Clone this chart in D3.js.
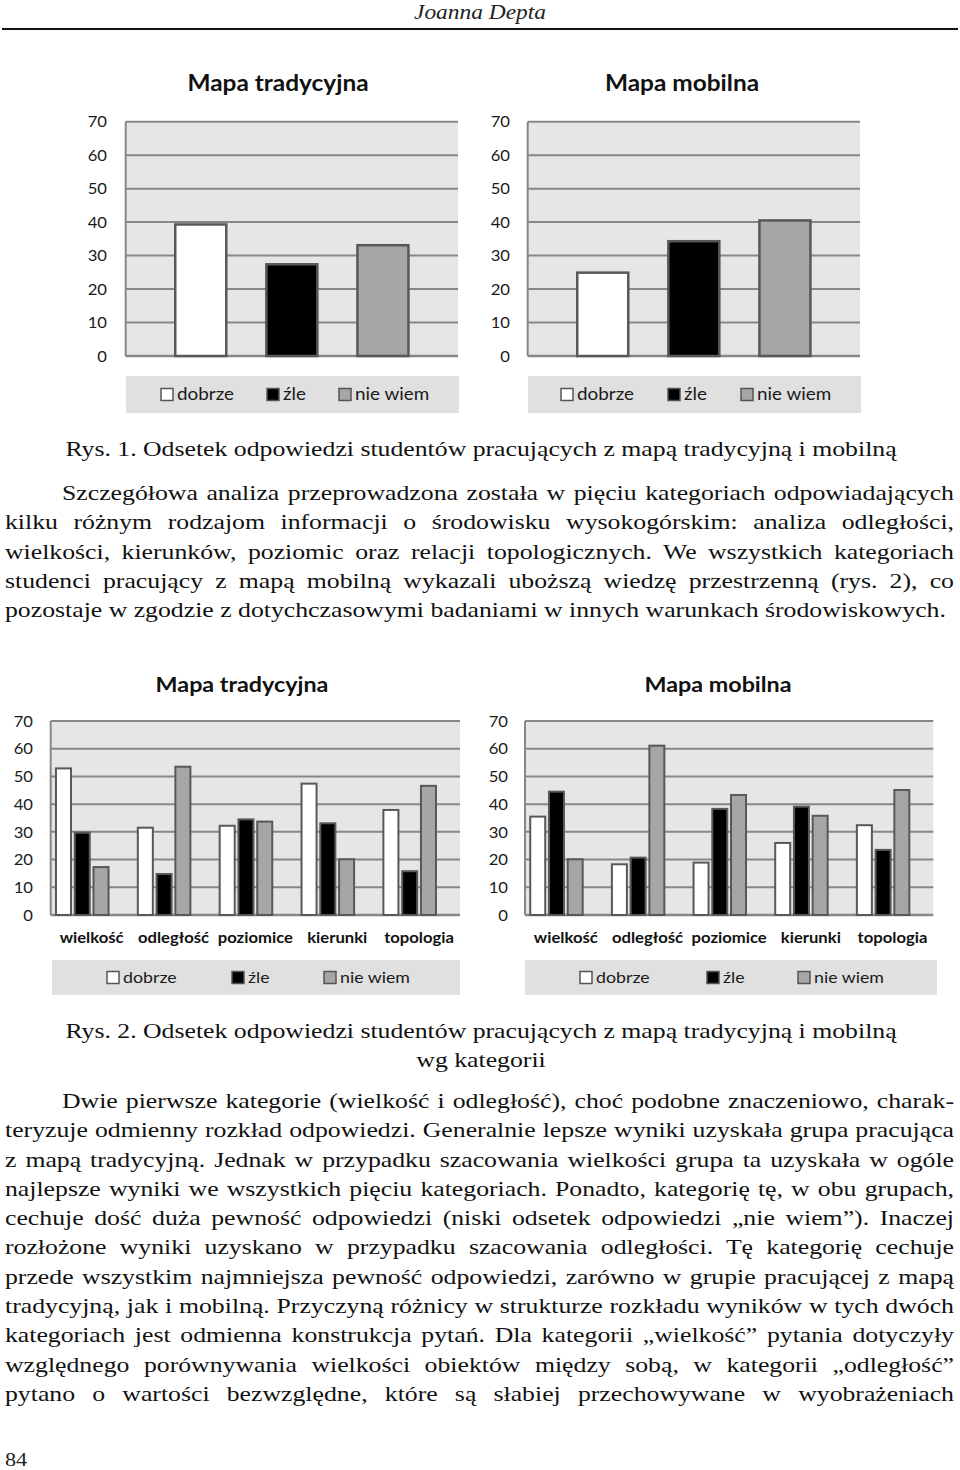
<!DOCTYPE html>
<html><head><meta charset="utf-8">
<script src="https://cdn.jsdelivr.net/npm/d3@7"></script>
<style>
html,body{margin:0;padding:0;background:#fff;}
svg{display:block;}
</style>
</head><body>
<svg id="page" width="960" height="1470"></svg>
<script>
// ---------- DATA ----------
const seriesNames = ["dobrze", "źle", "nie wiem"];
const overallTrad = [39.3, 27.4, 33.1];
const overallMob = [24.9, 34.3, 40.5];
const categories = ["wielkość", "odległość", "poziomice", "kierunki", "topologia"];
const tradDobrze = [52.9, 31.5, 32.2, 47.4, 37.9];
const tradZle = [29.7, 14.8, 34.5, 33.1, 15.8];
const tradNieWiem = [17.3, 53.5, 33.7, 20.1, 46.6];
const mobDobrze = [35.5, 18.3, 18.9, 26.0, 32.4];
const mobZle = [44.5, 20.7, 38.3, 39.1, 23.5];
const mobNieWiem = [20.1, 61.1, 43.3, 35.8, 45.1];
const yTicks = [0, 10, 20, 30, 40, 50, 60, 70];
const chartTitles = ["Mapa tradycyjna", "Mapa mobilna"];

// ---------- TEXT ----------
const headerText = "Joanna Depta";
const caption1 = "Rys. 1. Odsetek odpowiedzi studentów pracujących z mapą tradycyjną i mobilną";
const para1 = [
  "Szczegółowa analiza przeprowadzona została w pięciu kategoriach odpowiadających",
  "kilku różnym rodzajom informacji o środowisku wysokogórskim: analiza odległości,",
  "wielkości, kierunków, poziomic oraz relacji topologicznych. We wszystkich kategoriach",
  "studenci pracujący z mapą mobilną wykazali uboższą wiedzę przestrzenną (rys. 2), co",
  "pozostaje w zgodzie z dotychczasowymi badaniami w innych warunkach środowiskowych."
];
const caption2a = "Rys. 2. Odsetek odpowiedzi studentów pracujących z mapą tradycyjną i mobilną";
const caption2b = "wg kategorii";
const para2 = [
  "Dwie pierwsze kategorie (wielkość i odległość), choć podobne znaczeniowo, charak-",
  "teryzuje odmienny rozkład odpowiedzi. Generalnie lepsze wyniki uzyskała grupa pracująca",
  "z mapą tradycyjną. Jednak w przypadku szacowania wielkości grupa ta uzyskała w ogóle",
  "najlepsze wyniki we wszystkich pięciu kategoriach. Ponadto, kategorię tę, w obu grupach,",
  "cechuje dość duża pewność odpowiedzi (niski odsetek odpowiedzi „nie wiem”). Inaczej",
  "rozłożone wyniki uzyskano w przypadku szacowania odległości. Tę kategorię cechuje",
  "przede wszystkim najmniejsza pewność odpowiedzi, zarówno w grupie pracującej z mapą",
  "tradycyjną, jak i mobilną. Przyczyną różnicy w strukturze rozkładu wyników w tych dwóch",
  "kategoriach jest odmienna konstrukcja pytań. Dla kategorii „wielkość” pytania dotyczyły",
  "względnego porównywania wielkości obiektów między sobą, w kategorii „odległość”",
  "pytano o wartości bezwzględne, które są słabiej przechowywane w wyobrażeniach"
];
const pageNumber = "84";

// ---------- STYLE ----------
const fills = {"dobrze": "#ffffff", "źle": "#000000", "nie wiem": "#a6a6a6"};
const SANS = "Lato, 'Open Sans', sans-serif";
const SERIF = "'Liberation Serif', 'Times New Roman', serif";
const gridColor = "#878787";
const barStroke = "#585858";
const plotBg = "#e6e6e6";
const legendBg = "#e0e0e0";
const CSX = 1.11; // horizontal stretch of chart text (scan aspect)

const svg = d3.select("#page");
svg.append("rect").attr("width", 960).attr("height", 1470).attr("fill", "#fff");

// ---------- CHART HELPERS ----------
function stretchedText(g, x, y, s) {
  return g.append("text").attr("transform", `translate(${x},${y}) scale(${CSX},1)`).text(s);
}

function drawFrame(g, cfg, y) {
  g.append("rect").attr("x", cfg.left).attr("y", cfg.top)
    .attr("width", cfg.right - cfg.left).attr("height", cfg.bottom - cfg.top)
    .attr("fill", plotBg);
  g.selectAll("line.grid").data(yTicks).join("line").attr("class", "grid")
    .attr("x1", cfg.left).attr("x2", cfg.right)
    .attr("y1", d => y(d)).attr("y2", d => y(d))
    .attr("stroke", gridColor).attr("stroke-width", d => d === 0 ? 2.5 : 2);
  g.append("line").attr("x1", cfg.left).attr("x2", cfg.left)
    .attr("y1", cfg.top).attr("y2", cfg.bottom)
    .attr("stroke", gridColor).attr("stroke-width", 2);
  const ax = g.append("g").attr("transform", `translate(${cfg.tickX},0)`)
    .call(d3.axisLeft(y).tickValues(yTicks).tickSize(0).tickPadding(0).tickFormat(d3.format("d")));
  ax.select(".domain").remove();
  ax.selectAll("text").attr("font-family", SANS).attr("font-size", cfg.tickSize)
    .attr("fill", "#1a1a1a").attr("dy", "0.35em").attr("transform", `scale(${CSX},1)`);
  stretchedText(g, cfg.titleX, cfg.titleY, cfg.title).attr("text-anchor", "middle")
    .attr("font-family", SANS).attr("font-weight", "bold").attr("font-size", cfg.titleSize)
    .attr("fill", "#111");
}

function drawLegend(g, cfg) {
  const L = cfg.legend;
  g.append("rect").attr("x", L.x0).attr("y", L.y0).attr("width", L.x1 - L.x0)
    .attr("height", L.y1 - L.y0).attr("fill", legendBg);
  const cy = (L.y0 + L.y1) / 2;
  seriesNames.forEach((s, i) => {
    const x = L.x0 + L.offsets[i];
    g.append("rect").attr("x", x).attr("y", cy - 6).attr("width", 12).attr("height", 12)
      .attr("fill", fills[s]).attr("stroke", "#555").attr("stroke-width", 1.5);
    stretchedText(g, x + 16, cy, s).attr("dy", "0.35em")
      .attr("font-family", SANS).attr("font-size", L.fontSize).attr("fill", "#1a1a1a");
  });
}

function drawOverall(cfg, values) {
  const g = svg.append("g");
  const y = d3.scaleLinear().domain([0, 70]).range([cfg.bottom, cfg.top]);
  const x = d3.scaleBand().domain(seriesNames).range([cfg.left, cfg.right])
    .paddingInner(0.44).paddingOuter(0.544);
  drawFrame(g, cfg, y);
  g.selectAll("rect.bar").data(seriesNames.map((s, i) => ({s, v: values[i]}))).join("rect")
    .attr("class", "bar")
    .attr("x", d => x(d.s)).attr("width", x.bandwidth())
    .attr("y", d => y(d.v)).attr("height", d => y(0) - y(d.v))
    .attr("fill", d => fills[d.s]).attr("stroke", barStroke).attr("stroke-width", 2.5);
  drawLegend(g, cfg);
}

function drawCategory(cfg, seriesArrays) {
  const g = svg.append("g");
  const y = d3.scaleLinear().domain([0, 70]).range([cfg.bottom, cfg.top]);
  const x0 = d3.scaleBand().domain(categories).range([cfg.left, cfg.right]).padding(0);
  const slots = seriesNames.concat(["_"]);
  const x1 = d3.scaleBand().domain(slots).range([0, x0.bandwidth()])
    .paddingInner(0.2).paddingOuter(0.28);
  drawFrame(g, cfg, y);
  const data = [];
  categories.forEach((c, ci) => seriesNames.forEach((s, si) => data.push({c, s, v: seriesArrays[si][ci]})));
  g.selectAll("rect.bar").data(data).join("rect").attr("class", "bar")
    .attr("x", d => x0(d.c) + x1(d.s)).attr("width", x1.bandwidth())
    .attr("y", d => y(d.v)).attr("height", d => y(0) - y(d.v))
    .attr("fill", d => fills[d.s]).attr("stroke", barStroke).attr("stroke-width", 2);
  const xa = g.append("g").attr("transform", `translate(0,${cfg.catY})`)
    .call(d3.axisBottom(x0).tickSize(0).tickPadding(0));
  xa.select(".domain").remove();
  xa.selectAll("text").attr("font-family", SANS).attr("font-weight", "bold")
    .attr("font-size", 15).attr("fill", "#111").attr("dy", "0.35em")
    .attr("transform", `scale(${CSX},1)`);
  drawLegend(g, cfg);
}

// ---------- CHARTS ----------
drawOverall({left: 125.7, right: 458, top: 121.7, bottom: 356, tickX: 107, tickSize: 15,
  title: chartTitles[0], titleX: 278, titleY: 91, titleSize: 22,
  legend: {x0: 126, x1: 459, y0: 376, y1: 413, offsets: [35, 141, 213], fontSize: 17}}, overallTrad);
drawOverall({left: 527.7, right: 860, top: 121.7, bottom: 356, tickX: 510, tickSize: 15,
  title: chartTitles[1], titleX: 682, titleY: 91, titleSize: 22,
  legend: {x0: 528, x1: 861, y0: 376, y1: 413, offsets: [33, 140, 213], fontSize: 17}}, overallMob);

drawCategory({left: 50.7, right: 460, top: 721, bottom: 915, tickX: 33, tickSize: 15, catY: 938,
  title: chartTitles[0], titleX: 242, titleY: 692, titleSize: 21,
  legend: {x0: 52, x1: 460, y0: 960, y1: 995, offsets: [55, 180, 272], fontSize: 16}},
  [tradDobrze, tradZle, tradNieWiem]);
drawCategory({left: 525, right: 933.3, top: 721, bottom: 915, tickX: 508, tickSize: 15, catY: 938,
  title: chartTitles[1], titleX: 718, titleY: 692, titleSize: 21,
  legend: {x0: 525, x1: 937, y0: 960, y1: 995, offsets: [55, 182, 273], fontSize: 16}},
  [mobDobrze, mobZle, mobNieWiem]);

// ---------- BODY TEXT (horizontally stretched like the scan) ----------
const FS = 22;
const body = svg.append("g");
// measure caption to find the horizontal stretch of the scan
const probe = body.append("text").attr("font-family", SERIF).attr("font-size", FS).text(caption1);
const SX = 832 / probe.node().getComputedTextLength();
probe.remove();
body.attr("transform", `scale(${SX},1)`);

function textLine(s, x, y, anchor, size) {
  return body.append("text").attr("x", x / SX).attr("y", y).attr("text-anchor", anchor || "start")
    .attr("font-family", SERIF).attr("font-size", size || FS).attr("fill", "#111").text(s);
}
function paragraph(lines, firstBase, step, indentX, leftX, rightX, justifyLast) {
  lines.forEach((s, i) => {
    const x = i === 0 ? indentX : leftX;
    const t = textLine(s, x, firstBase + i * step);
    const isLast = i === lines.length - 1;
    if (!isLast || justifyLast) {
      const nat = t.node().getComputedTextLength();
      const spaces = (s.match(/ /g) || []).length;
      if (spaces > 0) t.style("word-spacing", (((rightX - x) / SX - nat) / spaces) + "px");
    }
  });
}

textLine(headerText, 480, 19, "middle", 20).attr("font-style", "italic").attr("fill", "#222");
svg.append("line").attr("x1", 2).attr("x2", 958).attr("y1", 29).attr("y2", 29)
  .attr("stroke", "#111").attr("stroke-width", 2);

textLine(caption1, 481, 456, "middle");
paragraph(para1, 500, 29.3, 62, 5, 954, false);
textLine(caption2a, 481, 1038, "middle");
textLine(caption2b, 481, 1067, "middle");
paragraph(para2, 1108, 29.3, 62, 5, 954, true);

textLine(pageNumber, 5, 1466, "start", 19).attr("fill", "#222");
</script>
</body></html>
